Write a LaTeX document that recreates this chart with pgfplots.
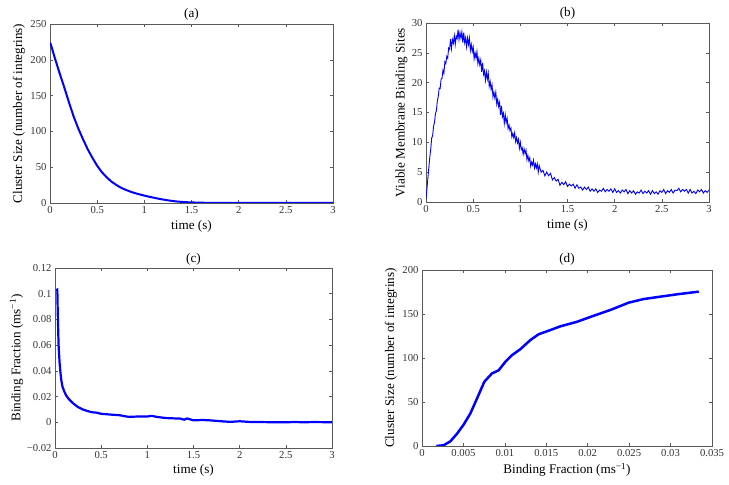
\documentclass[border=0pt]{standalone}
\usepackage{fontspec}
\setmainfont{Liberation Serif}
\usepackage{pgfplots}
\pgfplotsset{compat=1.18}
\definecolor{mblue}{RGB}{0,0,255}
\pgfplotsset{
 mystyle/.style={
  scale only axis, anchor=south west,
  axis line style={black!65, line width=0.6bp},
  tick style={black!65, line width=0.5bp},
  major tick length=3bp, tick align=inside,
  font=\fontsize{10.7}{12}\selectfont,
  tick label style={font=\fontsize{10.7}{12}\selectfont, text=black!80},
  label style={font=\fontsize{13.2}{15}\selectfont},
  title style={font=\fontsize{13.2}{15}\selectfont},
  scaled ticks=false,
  /pgf/number format/assume math mode=true,
  enlargelimits=false,
  clip=true,
 },
 ttl/.style={title style={at={([yshift=#1]axis description cs:0.5,1)}, anchor=center}},
 xl/.style={xlabel style={at={([yshift=-#1]axis description cs:0.5,0)}, anchor=center}},
 yl/.style={ylabel style={at={([xshift=-#1]axis description cs:0,0.5)}, anchor=center}},
}
\pgfplotstableread{
t y
0.00 0.5
0.01 2.2
0.02 4.0
0.03 5.8
0.04 7.5
0.05 8.8
0.06 10.7
0.07 11.1
0.08 12.7
0.09 13.3
0.10 14.8
0.11 15.3
0.12 16.9
0.13 17.7
0.14 19.1
0.15 19.0
0.16 20.6
0.17 20.7
0.18 22.1
0.19 21.6
0.20 23.5
0.21 23.2
0.22 24.4
0.23 24.1
0.24 25.8
0.25 25.6
0.26 27.3
0.27 25.7
0.28 27.2
0.29 26.6
0.30 27.9
0.31 26.4
0.32 27.8
0.33 27.4
0.34 28.9
0.35 27.2
0.36 28.4
0.37 27.5
0.38 28.5
0.39 26.7
0.40 28.4
0.41 26.7
0.42 27.5
0.43 26.0
0.44 27.5
0.45 26.4
0.46 27.5
0.47 25.4
0.48 26.4
0.49 25.2
0.50 26.0
0.51 24.0
0.52 25.0
0.53 24.1
0.54 25.2
0.55 23.2
0.56 24.1
0.57 23.0
0.58 23.8
0.59 21.8
0.60 23.3
0.61 21.4
0.62 22.0
0.63 20.4
0.64 21.8
0.65 20.6
0.66 21.6
0.67 19.4
0.68 20.2
0.69 18.9
0.70 19.6
0.71 17.6
0.72 18.4
0.73 17.4
0.74 18.4
0.75 16.4
0.76 17.2
0.77 16.0
0.78 16.7
0.79 14.6
0.80 16.1
0.81 14.3
0.82 14.9
0.83 13.2
0.84 14.6
0.85 13.3
0.86 14.0
0.87 12.3
0.88 12.9
0.89 12.0
0.90 12.4
0.91 10.9
0.92 11.5
0.93 10.8
0.94 11.6
0.95 10.1
0.96 10.8
0.97 9.9
0.98 10.5
0.99 9.0
1.00 10.0
1.01 8.8
1.02 9.1
1.03 8.0
1.04 8.9
1.05 8.1
1.06 8.7
1.07 7.1
1.08 7.8
1.09 6.9
1.10 7.4
1.11 6.0
1.12 6.7
1.13 6.2
1.14 7.0
1.15 5.7
1.16 6.4
1.17 5.7
1.18 6.4
1.19 5.0
1.20 6.1
1.22 5.0
1.24 5.3
1.26 4.4
1.28 5.0
1.30 4.4
1.32 4.8
1.34 3.7
1.36 4.1
1.38 3.5
1.40 3.8
1.42 2.8
1.44 3.3
1.46 2.9
1.48 3.4
1.50 2.6
1.52 3.0
1.54 2.7
1.56 3.0
1.58 2.3
1.60 2.9
1.62 2.3
1.64 2.5
1.66 2.0
1.68 2.5
1.70 2.1
1.72 2.5
1.74 1.8
1.76 2.2
1.78 1.8
1.80 2.2
1.82 1.6
1.84 2.0
1.86 1.8
1.88 2.3
1.90 1.7
1.92 2.1
1.94 1.8
1.96 2.2
1.98 1.6
2.00 2.2
2.02 1.6
2.04 1.9
2.06 1.5
2.08 2.0
2.10 1.7
2.12 2.1
2.14 1.4
2.16 1.9
2.18 1.5
2.20 1.9
2.22 1.3
2.24 1.7
2.26 1.5
2.28 2.0
2.30 1.4
2.32 1.8
2.34 1.5
2.36 1.9
2.38 1.3
2.40 1.9
2.42 1.4
2.44 1.7
2.46 1.3
2.48 1.9
2.50 1.6
2.52 2.1
2.54 1.4
2.56 1.9
2.58 1.6
2.60 2.1
2.62 1.5
2.64 2.0
2.66 1.9
2.68 2.3
2.70 1.7
2.72 2.1
2.74 1.8
2.76 2.1
2.78 1.5
2.80 2.1
2.82 1.5
2.84 1.8
2.86 1.4
2.88 2.0
2.90 1.7
2.92 2.1
2.94 1.5
2.96 1.9
2.98 1.6
3.00 2.0
}\sitesdata
\begin{document}
\begin{tikzpicture}
\path[use as bounding box] (0,0) rectangle (729bp,485bp);
% (a)
\begin{axis}[mystyle, at={(50bp,282bp)}, width=283bp, height=179bp,
  ttl=3.5bp, xl=23bp, yl=31bp,
  xmin=0, xmax=3, ymin=0, ymax=250,
  xtick={0,0.5,1,1.5,2,2.5,3}, xticklabels={0,0.5,1,1.5,2,2.5,3},
  ytick={0,50,100,150,200,250}, yticklabels={0,50,100,150,200,250},
  title={(a)}, xlabel={time (s)}, ylabel={Cluster Size (number of integrins)}]
\addplot[mblue, line width=2bp, line join=round] coordinates {
(0,224) (0.01,221) (0.05,203) (0.1,182) (0.15,162) (0.2,141) (0.25,121) (0.3,104)
(0.35,89) (0.4,75) (0.45,63) (0.5,52) (0.55,43) (0.6,36) (0.65,30) (0.7,25.5)
(0.75,21.5) (0.8,18.5) (0.85,16) (0.9,13.8) (0.95,12) (1.0,10.3) (1.05,8.8) (1.1,7.4)
(1.15,6) (1.2,4.8) (1.25,3.7) (1.3,2.8) (1.35,2) (1.4,1.5) (1.45,1.1) (1.5,0.8)
(1.6,0.4) (1.7,0.2) (1.8,0) (3,0)};
\end{axis}
% (b)
\begin{axis}[mystyle, at={(426bp,283bp)}, width=283bp, height=179bp,
  ttl=4bp, xl=23bp, yl=24.5bp,
  xmin=0, xmax=3, ymin=0, ymax=30,
  xtick={0,0.5,1,1.5,2,2.5,3}, xticklabels={0,0.5,1,1.5,2,2.5,3},
  ytick={0,5,10,15,20,25,30}, yticklabels={0,5,10,15,20,25,30},
  title={(b)}, xlabel={time (s)}, ylabel={Viable Membrane Binding Sites}]
\addplot[mblue, line width=0.9bp] table[x=t,y=y] {\sitesdata};
\end{axis}
% (c)
\begin{axis}[mystyle, at={(55bp,37bp)}, width=277bp, height=180bp,
  ttl=3bp, xl=22bp, yl=38.5bp,
  xmin=0, xmax=3, ymin=-0.02, ymax=0.12,
  xtick={0,0.5,1,1.5,2,2.5,3}, xticklabels={0,0.5,1,1.5,2,2.5,3},
  ytick={-0.02,0,0.02,0.04,0.06,0.08,0.1,0.12},
  yticklabels={−0.02,0,0.02,0.04,0.06,0.08,0.1,0.12},
  title={(c)}, xlabel={time (s)}, ylabel={Binding Fraction (ms\textsuperscript{−1})}]
\addplot[mblue, line width=2.2bp, line join=round] coordinates {
(0.02,0.104) (0.025,0.1035) (0.03,0.085) (0.035,0.070) (0.04,0.058) (0.05,0.046)
(0.06,0.038) (0.07,0.032) (0.08,0.028) (0.1,0.024) (0.12,0.021) (0.15,0.018)
(0.2,0.0145) (0.25,0.0118) (0.3,0.0100) (0.35,0.0088) (0.4,0.0078) (0.45,0.0075)
(0.5,0.0066) (0.6,0.0060) (0.7,0.0055) (0.75,0.0048) (0.8,0.0042) (0.9,0.0045)
(1.0,0.0045) (1.05,0.0050) (1.1,0.0042) (1.2,0.0033) (1.3,0.0030) (1.35,0.0030)
(1.4,0.0020) (1.43,0.0030) (1.5,0.0015) (1.6,0.0018) (1.7,0.0014) (1.8,0.0008)
(1.9,0.0003) (2.0,0.0008) (2.1,0.0003) (2.2,0.0002) (2.4,0) (2.5,0) (2.6,0.0002)
(2.7,0) (2.8,0.0002) (3.0,0)};
\end{axis}
% (d)
\begin{axis}[mystyle, at={(422bp,39bp)}, width=290bp, height=176bp,
  ttl=4.5bp, xl=24bp, yl=31bp,
  xmin=0, xmax=0.035, ymin=0, ymax=200,
  xtick={0,0.005,0.01,0.015,0.02,0.025,0.03,0.035},
  xticklabels={0,0.005,0.01,0.015,0.02,0.025,0.03,0.035},
  ytick={0,50,100,150,200}, yticklabels={0,50,100,150,200},
  title={(d)}, xlabel={Binding Fraction (ms\textsuperscript{−1})},
  ylabel={Cluster Size (number of integrins)}]
\addplot[mblue, line width=2.5bp, line join=round] coordinates {
(0.00173,0) (0.0026,0.8) (0.00342,5.3) (0.00423,14) (0.00503,24.4) (0.00583,36.9)
(0.00664,54) (0.00752,73) (0.00845,82.5) (0.00925,86) (0.01006,95.7) (0.01087,103.3)
(0.01187,110) (0.01308,120.4) (0.01408,127) (0.0155,131.8) (0.0167,136) (0.01872,141.2)
(0.02072,148) (0.02274,154.6) (0.02495,162.9) (0.02676,167) (0.02877,169.7)
(0.0308,172.4) (0.0334,175.4)};
\end{axis}
\end{tikzpicture}
\end{document}
